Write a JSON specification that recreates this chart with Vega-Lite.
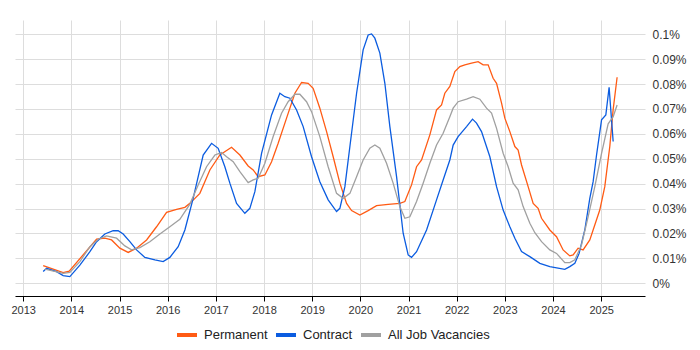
{
  "$schema": "https://vega.github.io/schema/vega-lite/v6.json",
  "width": 630,
  "height": 276,
  "autosize": {"type": "none"},
  "padding": {"left": 15, "top": 20, "right": 55, "bottom": 54},
  "background": "white",
  "config": {
    "view": {"stroke": null},
    "font": "Liberation Sans"
  },
  "data": {"values": [
    {"s":"Permanent","x":2013.415,"v":0.0071},{"s":"Permanent","x":2013.830,"v":0.0043},{"s":"Permanent","x":2013.955,"v":0.0049},{"s":"Permanent","x":2014.524,"v":0.0177},{"s":"Permanent","x":2014.696,"v":0.0181},{"s":"Permanent","x":2014.835,"v":0.0174},{"s":"Permanent","x":2015.007,"v":0.0141},{"s":"Permanent","x":2015.180,"v":0.0124},{"s":"Permanent","x":2015.354,"v":0.0141},{"s":"Permanent","x":2015.562,"v":0.0174},{"s":"Permanent","x":2015.769,"v":0.0227},{"s":"Permanent","x":2015.977,"v":0.0285},{"s":"Permanent","x":2016.185,"v":0.0297},{"s":"Permanent","x":2016.357,"v":0.0305},{"s":"Permanent","x":2016.461,"v":0.0321},{"s":"Permanent","x":2016.668,"v":0.0361},{"s":"Permanent","x":2016.876,"v":0.0455},{"s":"Permanent","x":2017.083,"v":0.0515},{"s":"Permanent","x":2017.326,"v":0.0546},{"s":"Permanent","x":2017.499,"v":0.0515},{"s":"Permanent","x":2017.671,"v":0.0471},{"s":"Permanent","x":2017.775,"v":0.0455},{"s":"Permanent","x":2017.879,"v":0.0428},{"s":"Permanent","x":2018.018,"v":0.0435},{"s":"Permanent","x":2018.157,"v":0.0488},{"s":"Permanent","x":2018.294,"v":0.0562},{"s":"Permanent","x":2018.468,"v":0.0663},{"s":"Permanent","x":2018.641,"v":0.0763},{"s":"Permanent","x":2018.780,"v":0.0806},{"s":"Permanent","x":2018.917,"v":0.0803},{"s":"Permanent","x":2019.020,"v":0.0783},{"s":"Permanent","x":2019.159,"v":0.0703},{"s":"Permanent","x":2019.299,"v":0.0609},{"s":"Permanent","x":2019.436,"v":0.0508},{"s":"Permanent","x":2019.575,"v":0.0402},{"s":"Permanent","x":2019.714,"v":0.0321},{"s":"Permanent","x":2019.818,"v":0.0292},{"s":"Permanent","x":2019.990,"v":0.0274},{"s":"Permanent","x":2020.162,"v":0.0292},{"s":"Permanent","x":2020.337,"v":0.0312},{"s":"Permanent","x":2020.577,"v":0.0317},{"s":"Permanent","x":2020.820,"v":0.0321},{"s":"Permanent","x":2020.924,"v":0.0328},{"s":"Permanent","x":2021.063,"v":0.0395},{"s":"Permanent","x":2021.167,"v":0.0468},{"s":"Permanent","x":2021.271,"v":0.0495},{"s":"Permanent","x":2021.443,"v":0.0596},{"s":"Permanent","x":2021.582,"v":0.0696},{"s":"Permanent","x":2021.686,"v":0.0716},{"s":"Permanent","x":2021.754,"v":0.0763},{"s":"Permanent","x":2021.858,"v":0.0790},{"s":"Permanent","x":2021.962,"v":0.0850},{"s":"Permanent","x":2022.066,"v":0.0870},{"s":"Permanent","x":2022.170,"v":0.0877},{"s":"Permanent","x":2022.309,"v":0.0884},{"s":"Permanent","x":2022.446,"v":0.0890},{"s":"Permanent","x":2022.549,"v":0.0877},{"s":"Permanent","x":2022.653,"v":0.0877},{"s":"Permanent","x":2022.757,"v":0.0823},{"s":"Permanent","x":2022.828,"v":0.0803},{"s":"Permanent","x":2022.932,"v":0.0723},{"s":"Permanent","x":2023.000,"v":0.0663},{"s":"Permanent","x":2023.104,"v":0.0609},{"s":"Permanent","x":2023.208,"v":0.0549},{"s":"Permanent","x":2023.276,"v":0.0535},{"s":"Permanent","x":2023.347,"v":0.0475},{"s":"Permanent","x":2023.484,"v":0.0388},{"s":"Permanent","x":2023.588,"v":0.0321},{"s":"Permanent","x":2023.691,"v":0.0301},{"s":"Permanent","x":2023.762,"v":0.0261},{"s":"Permanent","x":2023.934,"v":0.0214},{"s":"Permanent","x":2024.073,"v":0.0187},{"s":"Permanent","x":2024.210,"v":0.0134},{"s":"Permanent","x":2024.349,"v":0.0110},{"s":"Permanent","x":2024.418,"v":0.0114},{"s":"Permanent","x":2024.521,"v":0.0141},{"s":"Permanent","x":2024.625,"v":0.0134},{"s":"Permanent","x":2024.764,"v":0.0174},{"s":"Permanent","x":2024.971,"v":0.0294},{"s":"Permanent","x":2025.075,"v":0.0388},{"s":"Permanent","x":2025.179,"v":0.0549},{"s":"Permanent","x":2025.248,"v":0.0696},{"s":"Permanent","x":2025.331,"v":0.0827},
    {"s":"Contract","x":2013.415,"v":0.0047},{"s":"Contract","x":2013.486,"v":0.0060},{"s":"Contract","x":2013.693,"v":0.0047},{"s":"Contract","x":2013.830,"v":0.0031},{"s":"Contract","x":2013.969,"v":0.0027},{"s":"Contract","x":2014.177,"v":0.0073},{"s":"Contract","x":2014.385,"v":0.0127},{"s":"Contract","x":2014.524,"v":0.0167},{"s":"Contract","x":2014.696,"v":0.0198},{"s":"Contract","x":2014.868,"v":0.0211},{"s":"Contract","x":2014.972,"v":0.0211},{"s":"Contract","x":2015.076,"v":0.0198},{"s":"Contract","x":2015.215,"v":0.0167},{"s":"Contract","x":2015.354,"v":0.0134},{"s":"Contract","x":2015.526,"v":0.0104},{"s":"Contract","x":2015.734,"v":0.0094},{"s":"Contract","x":2015.906,"v":0.0087},{"s":"Contract","x":2016.045,"v":0.0104},{"s":"Contract","x":2016.218,"v":0.0147},{"s":"Contract","x":2016.357,"v":0.0214},{"s":"Contract","x":2016.529,"v":0.0341},{"s":"Contract","x":2016.737,"v":0.0515},{"s":"Contract","x":2016.911,"v":0.0562},{"s":"Contract","x":2017.048,"v":0.0542},{"s":"Contract","x":2017.187,"v":0.0468},{"s":"Contract","x":2017.291,"v":0.0402},{"s":"Contract","x":2017.430,"v":0.0321},{"s":"Contract","x":2017.602,"v":0.0281},{"s":"Contract","x":2017.706,"v":0.0301},{"s":"Contract","x":2017.810,"v":0.0368},{"s":"Contract","x":2017.949,"v":0.0522},{"s":"Contract","x":2018.157,"v":0.0676},{"s":"Contract","x":2018.329,"v":0.0763},{"s":"Contract","x":2018.433,"v":0.0749},{"s":"Contract","x":2018.537,"v":0.0743},{"s":"Contract","x":2018.676,"v":0.0696},{"s":"Contract","x":2018.813,"v":0.0629},{"s":"Contract","x":2018.987,"v":0.0508},{"s":"Contract","x":2019.159,"v":0.0408},{"s":"Contract","x":2019.332,"v":0.0335},{"s":"Contract","x":2019.506,"v":0.0288},{"s":"Contract","x":2019.575,"v":0.0301},{"s":"Contract","x":2019.679,"v":0.0388},{"s":"Contract","x":2019.783,"v":0.0549},{"s":"Contract","x":2019.922,"v":0.0763},{"s":"Contract","x":2020.058,"v":0.0937},{"s":"Contract","x":2020.162,"v":0.0997},{"s":"Contract","x":2020.233,"v":0.1001},{"s":"Contract","x":2020.301,"v":0.0984},{"s":"Contract","x":2020.405,"v":0.0924},{"s":"Contract","x":2020.509,"v":0.0803},{"s":"Contract","x":2020.613,"v":0.0629},{"s":"Contract","x":2020.752,"v":0.0428},{"s":"Contract","x":2020.889,"v":0.0201},{"s":"Contract","x":2020.993,"v":0.0114},{"s":"Contract","x":2021.063,"v":0.0104},{"s":"Contract","x":2021.167,"v":0.0127},{"s":"Contract","x":2021.375,"v":0.0214},{"s":"Contract","x":2021.582,"v":0.0335},{"s":"Contract","x":2021.719,"v":0.0415},{"s":"Contract","x":2021.858,"v":0.0495},{"s":"Contract","x":2021.927,"v":0.0555},{"s":"Contract","x":2022.030,"v":0.0589},{"s":"Contract","x":2022.205,"v":0.0629},{"s":"Contract","x":2022.329,"v":0.0659},{"s":"Contract","x":2022.412,"v":0.0643},{"s":"Contract","x":2022.516,"v":0.0609},{"s":"Contract","x":2022.689,"v":0.0508},{"s":"Contract","x":2022.828,"v":0.0388},{"s":"Contract","x":2022.965,"v":0.0294},{"s":"Contract","x":2023.104,"v":0.0227},{"s":"Contract","x":2023.208,"v":0.0181},{"s":"Contract","x":2023.347,"v":0.0127},{"s":"Contract","x":2023.519,"v":0.0107},{"s":"Contract","x":2023.727,"v":0.0080},{"s":"Contract","x":2023.934,"v":0.0067},{"s":"Contract","x":2024.245,"v":0.0056},{"s":"Contract","x":2024.349,"v":0.0067},{"s":"Contract","x":2024.453,"v":0.0080},{"s":"Contract","x":2024.542,"v":0.0120},{"s":"Contract","x":2024.660,"v":0.0214},{"s":"Contract","x":2024.764,"v":0.0341},{"s":"Contract","x":2024.833,"v":0.0408},{"s":"Contract","x":2024.904,"v":0.0515},{"s":"Contract","x":2025.008,"v":0.0656},{"s":"Contract","x":2025.097,"v":0.0676},{"s":"Contract","x":2025.165,"v":0.0787},{"s":"Contract","x":2025.195,"v":0.0709},{"s":"Contract","x":2025.249,"v":0.0569},
    {"s":"All Job Vacancies","x":2013.450,"v":0.0057},{"s":"All Job Vacancies","x":2013.830,"v":0.0040},{"s":"All Job Vacancies","x":2013.969,"v":0.0044},{"s":"All Job Vacancies","x":2014.177,"v":0.0087},{"s":"All Job Vacancies","x":2014.385,"v":0.0147},{"s":"All Job Vacancies","x":2014.557,"v":0.0177},{"s":"All Job Vacancies","x":2014.731,"v":0.0190},{"s":"All Job Vacancies","x":2014.939,"v":0.0181},{"s":"All Job Vacancies","x":2015.111,"v":0.0150},{"s":"All Job Vacancies","x":2015.250,"v":0.0134},{"s":"All Job Vacancies","x":2015.423,"v":0.0143},{"s":"All Job Vacancies","x":2015.630,"v":0.0167},{"s":"All Job Vacancies","x":2015.838,"v":0.0198},{"s":"All Job Vacancies","x":2016.045,"v":0.0227},{"s":"All Job Vacancies","x":2016.253,"v":0.0257},{"s":"All Job Vacancies","x":2016.461,"v":0.0318},{"s":"All Job Vacancies","x":2016.633,"v":0.0395},{"s":"All Job Vacancies","x":2016.807,"v":0.0468},{"s":"All Job Vacancies","x":2016.980,"v":0.0515},{"s":"All Job Vacancies","x":2017.119,"v":0.0525},{"s":"All Job Vacancies","x":2017.223,"v":0.0508},{"s":"All Job Vacancies","x":2017.360,"v":0.0488},{"s":"All Job Vacancies","x":2017.499,"v":0.0448},{"s":"All Job Vacancies","x":2017.671,"v":0.0404},{"s":"All Job Vacancies","x":2017.775,"v":0.0415},{"s":"All Job Vacancies","x":2017.879,"v":0.0422},{"s":"All Job Vacancies","x":2018.018,"v":0.0482},{"s":"All Job Vacancies","x":2018.190,"v":0.0589},{"s":"All Job Vacancies","x":2018.364,"v":0.0683},{"s":"All Job Vacancies","x":2018.501,"v":0.0729},{"s":"All Job Vacancies","x":2018.641,"v":0.0759},{"s":"All Job Vacancies","x":2018.744,"v":0.0759},{"s":"All Job Vacancies","x":2018.883,"v":0.0729},{"s":"All Job Vacancies","x":2018.987,"v":0.0689},{"s":"All Job Vacancies","x":2019.159,"v":0.0589},{"s":"All Job Vacancies","x":2019.332,"v":0.0468},{"s":"All Job Vacancies","x":2019.506,"v":0.0361},{"s":"All Job Vacancies","x":2019.643,"v":0.0341},{"s":"All Job Vacancies","x":2019.783,"v":0.0361},{"s":"All Job Vacancies","x":2019.922,"v":0.0428},{"s":"All Job Vacancies","x":2020.058,"v":0.0495},{"s":"All Job Vacancies","x":2020.197,"v":0.0542},{"s":"All Job Vacancies","x":2020.301,"v":0.0555},{"s":"All Job Vacancies","x":2020.405,"v":0.0542},{"s":"All Job Vacancies","x":2020.544,"v":0.0482},{"s":"All Job Vacancies","x":2020.681,"v":0.0402},{"s":"All Job Vacancies","x":2020.820,"v":0.0308},{"s":"All Job Vacancies","x":2020.924,"v":0.0261},{"s":"All Job Vacancies","x":2021.028,"v":0.0267},{"s":"All Job Vacancies","x":2021.167,"v":0.0328},{"s":"All Job Vacancies","x":2021.304,"v":0.0402},{"s":"All Job Vacancies","x":2021.443,"v":0.0482},{"s":"All Job Vacancies","x":2021.582,"v":0.0555},{"s":"All Job Vacancies","x":2021.719,"v":0.0602},{"s":"All Job Vacancies","x":2021.858,"v":0.0669},{"s":"All Job Vacancies","x":2021.927,"v":0.0703},{"s":"All Job Vacancies","x":2022.030,"v":0.0729},{"s":"All Job Vacancies","x":2022.205,"v":0.0739},{"s":"All Job Vacancies","x":2022.342,"v":0.0749},{"s":"All Job Vacancies","x":2022.481,"v":0.0739},{"s":"All Job Vacancies","x":2022.620,"v":0.0703},{"s":"All Job Vacancies","x":2022.724,"v":0.0683},{"s":"All Job Vacancies","x":2022.828,"v":0.0622},{"s":"All Job Vacancies","x":2022.965,"v":0.0522},{"s":"All Job Vacancies","x":2023.069,"v":0.0468},{"s":"All Job Vacancies","x":2023.172,"v":0.0402},{"s":"All Job Vacancies","x":2023.276,"v":0.0375},{"s":"All Job Vacancies","x":2023.380,"v":0.0308},{"s":"All Job Vacancies","x":2023.519,"v":0.0241},{"s":"All Job Vacancies","x":2023.623,"v":0.0203},{"s":"All Job Vacancies","x":2023.762,"v":0.0167},{"s":"All Job Vacancies","x":2023.934,"v":0.0134},{"s":"All Job Vacancies","x":2024.073,"v":0.0120},{"s":"All Job Vacancies","x":2024.245,"v":0.0083},{"s":"All Job Vacancies","x":2024.349,"v":0.0083},{"s":"All Job Vacancies","x":2024.453,"v":0.0094},{"s":"All Job Vacancies","x":2024.592,"v":0.0154},{"s":"All Job Vacancies","x":2024.729,"v":0.0267},{"s":"All Job Vacancies","x":2024.868,"v":0.0388},{"s":"All Job Vacancies","x":2025.008,"v":0.0522},{"s":"All Job Vacancies","x":2025.145,"v":0.0640},{"s":"All Job Vacancies","x":2025.249,"v":0.0669},{"s":"All Job Vacancies","x":2025.331,"v":0.0716}
  ]},
  "mark": {"type": "line", "strokeWidth": 1.3},
  "encoding": {
    "x": {
      "field": "x", "type": "quantitative",
      "scale": {"domain": [2012.83, 2025.91], "nice": false, "zero": false},
      "axis": {
        "title": null, "values": [2013,2014,2015,2016,2017,2018,2019,2020,2021,2022,2023,2024,2025],
        "format": "d", "grid": true, "gridColor": "#dddddd", "gridWidth": 1,
        "domainColor": "#000000", "domainWidth": 1, "tickColor": "#000000", "tickSize": 5,
        "labelFontSize": 11, "labelColor": "#333333", "labelPadding": 3, "labelFont": "Liberation Sans"
      }
    },
    "y": {
      "field": "v", "type": "quantitative",
      "scale": {"domain": [-0.0051, 0.1057], "nice": false, "zero": false},
      "axis": {
        "title": null, "orient": "right",
        "values": [0,0.01,0.02,0.03,0.04,0.05,0.06,0.07,0.08,0.09,0.1],
        "labelExpr": "format(datum.value, '.2~f') + '%'",
        "grid": true, "gridColor": "#dddddd", "domain": false, "ticks": false,
        "labelFontSize": 12, "labelColor": "#333333", "labelPadding": 7, "labelFont": "Liberation Sans"
      }
    },
    "color": {
      "field": "s", "type": "nominal",
      "scale": {"domain": ["Permanent", "Contract", "All Job Vacancies"], "range": ["#ff5b14", "#0b5ce0", "#a0a0a0"]},
      "legend": {
        "title": null, "orient": "none", "direction": "horizontal",
        "legendX": 160, "legendY": 303, "padding": 0,
        "symbolType": "stroke", "symbolStrokeWidth": 4, "symbolSize": 400, "labelOffset": 5,
        "labelFontSize": 13, "labelColor": "#222222", "labelFont": "Liberation Sans",
        "columnPadding": 0
      }
    },
    "order": {"field": "x", "type": "quantitative"}
  }
}
